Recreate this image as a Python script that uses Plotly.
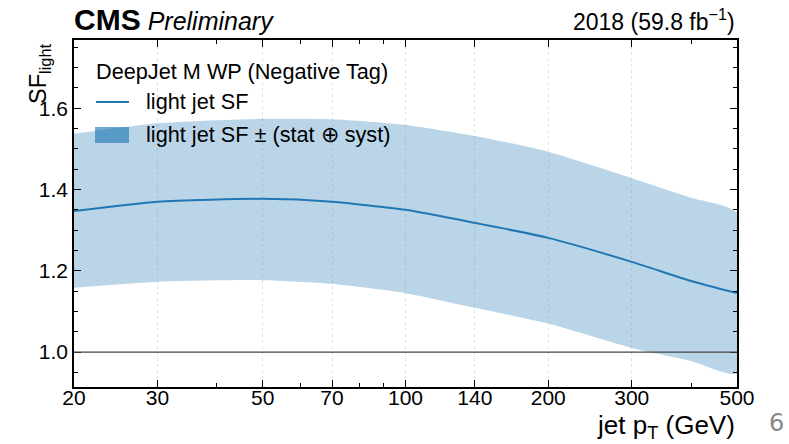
import plotly.graph_objects as go

# Light-jet scale factor vs jet pT (DeepJet M WP, negative tag), 2018
pt = [20, 30, 50, 70, 100, 140, 200, 300, 400, 500]
sf_central = [1.347, 1.370, 1.377, 1.370, 1.350, 1.318, 1.281, 1.222, 1.175, 1.145]
sf_up = [1.537, 1.563, 1.574, 1.573, 1.559, 1.532, 1.493, 1.428, 1.380, 1.342]
sf_down = [1.158, 1.173, 1.177, 1.168, 1.145, 1.109, 1.070, 1.010, 0.978, 0.948]

x_ticks = [20, 30, 50, 70, 100, 140, 200, 300, 500]
x_minor = [40, 60, 80, 90, 400]
y_ticks = [1.0, 1.2, 1.4, 1.6]
unity = 1.0

BLUE = "#1f77b4"
BAND = "rgba(31,119,180,0.31)"
BAND_LEG = "rgba(31,119,180,0.64)"
FONT = "Liberation Sans"

fig = go.Figure()

# uncertainty band: upper edge forward, lower edge backward, closed polygon
fig.add_trace(go.Scatter(
    x=pt + pt[::-1], y=sf_up + sf_down[::-1],
    fill="toself", fillcolor=BAND, mode="lines",
    line=dict(width=0, shape="spline", smoothing=0.6),
    hoverinfo="skip", showlegend=False,
))
fig.add_trace(go.Scatter(
    x=pt, y=sf_central, mode="lines",
    line=dict(color=BLUE, width=2, shape="spline", smoothing=0.6),
    showlegend=False,
))

# reference line at SF = 1
fig.add_shape(type="line", xref="paper", x0=0, x1=1, yref="y", y0=unity, y1=unity,
              line=dict(color="#444444", width=1.2), layer="above")

L, R, T, B = 74, 52, 40, 57
W, H = 789, 444
pw, ph = W - L - R, H - T - B


def px(x):
    return (x - L) / pw


def py(y):
    return (H - B - y) / ph


annotations = [
    dict(text="<b>CMS</b><span style='font-size:25px'> <i>Preliminary</i></span>",
         xref="paper", yref="paper", x=px(72), y=1, xanchor="left", yanchor="bottom",
         yshift=2, font=dict(size=30, color="black", family=FONT), showarrow=False),
    dict(text="2018 (59.8 fb<sup>−1</sup>)",
         xref="paper", yref="paper", x=1, y=1, xanchor="right", yanchor="bottom",
         yshift=3, font=dict(size=23, color="black", family=FONT), showarrow=False),
    dict(text="SF<sub>light</sub>", textangle=-90,
         xref="paper", yref="paper", x=0, y=1, xanchor="right", yanchor="top",
         xshift=-18, yshift=-1, font=dict(size=23.5, color="black", family=FONT),
         showarrow=False),
    dict(text="jet p<sub>T</sub> (GeV)",
         xref="paper", yref="paper", x=1, y=0, xanchor="right", yanchor="top",
         yshift=-21, font=dict(size=26, color="black", family=FONT), showarrow=False),
    dict(text="6", xref="paper", yref="paper", x=px(776), y=py(423),
         xanchor="center", yanchor="middle",
         font=dict(size=24, color="#888888", family="DejaVu Sans"), showarrow=False),
    # legend
    dict(text="DeepJet M WP (Negative Tag)", xref="paper", yref="paper",
         x=px(94), y=py(71), xanchor="left", yanchor="middle",
         font=dict(size=21.7, color="black", family=FONT), showarrow=False),
    dict(text="light jet SF", xref="paper", yref="paper",
         x=px(144), y=py(101), xanchor="left", yanchor="middle",
         font=dict(size=21.7, color="black", family=FONT), showarrow=False),
    dict(text="light jet SF ± (stat ⊕ syst)", xref="paper", yref="paper",
         x=px(144), y=py(134), xanchor="left", yanchor="middle",
         font=dict(size=21.7, color="black", family=FONT), showarrow=False),
]

fig.add_shape(type="line", xref="paper", yref="paper",
              x0=px(96), x1=px(129), y0=py(102), y1=py(102),
              line=dict(color=BLUE, width=2))
fig.add_shape(type="rect", xref="paper", yref="paper",
              x0=px(95), x1=px(129), y0=py(143), y1=py(127),
              line=dict(width=0), fillcolor=BAND_LEG)

fig.update_layout(
    width=W, height=H,
    margin=dict(l=L, r=R, t=T, b=B),
    paper_bgcolor="white", plot_bgcolor="white",
    annotations=annotations,
    font=dict(family=FONT, color="black"),
    xaxis=dict(
        type="log", range=[1.30103, 2.69897],
        tickmode="array", tickvals=x_ticks, ticktext=[str(v) for v in x_ticks],
        ticks="inside", ticklen=7, tickwidth=1.2, tickcolor="black",
        ticklabelstandoff=-9,
        showline=True, linecolor="black", linewidth=1.6, mirror="allticks",
        showgrid=True, gridcolor="#e3e3e3", griddash="dot", gridwidth=1,
        tickfont=dict(size=21, family=FONT), zeroline=False,
        minor=dict(tickmode="array", tickvals=x_minor, ticks="inside",
                   ticklen=4, tickwidth=1, tickcolor="black", showgrid=False),
    ),
    yaxis=dict(
        range=[0.914, 1.768],
        tickmode="array", tickvals=y_ticks, ticktext=[f"{v:.1f}" for v in y_ticks],
        ticks="inside", ticklen=7, tickwidth=1.2, tickcolor="black",
        showline=True, linecolor="black", linewidth=1.6, mirror="allticks",
        showgrid=False, zeroline=False,
        tickfont=dict(size=21, family=FONT),
        minor=dict(dtick=0.05, tick0=0, ticks="inside", ticklen=4, tickwidth=1,
                   tickcolor="black", showgrid=False),
    ),
)

fig.write_html("out.html")
